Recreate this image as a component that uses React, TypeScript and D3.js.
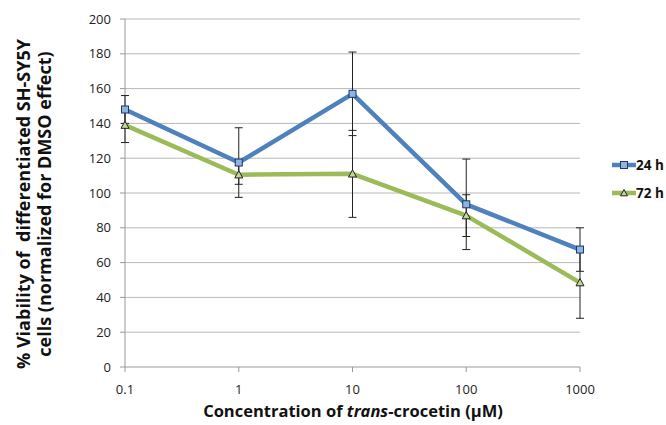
import React from "react";
import * as d3 from "d3";

const concentrations = [0.1, 1, 10, 100, 1000];
const series24 = [148, 117.5, 157, 93.5, 67.5];
const err24 = [8, 20, 24, 26, 12.5];
const series72 = [139, 110.5, 111, 87, 48.5];
const err72 = [10, 5.5, 25, 12, 20.5];
const yTicks = [0, 20, 40, 60, 80, 100, 120, 140, 160, 180, 200];
const xTicks = [0.1, 1, 10, 100, 1000];
const seriesNames = ["24 h", "72 h"];

const W = 666;
const H = 425;

export default function App() {
  const x = d3.scaleLog().domain([0.1, 1000]).range([125, 580]);
  const y = d3.scaleLinear().domain([0, 200]).range([367, 19]);
  const font = "'Open Sans', 'Liberation Sans', sans-serif";

  const line = d3
    .line<[number, number]>()
    .x((d) => x(d[0]))
    .y((d) => y(d[1]));

  const d24 = concentrations.map((c, i) => [c, series24[i]] as [number, number]);
  const d72 = concentrations.map((c, i) => [c, series72[i]] as [number, number]);

  const blue = "#4f81bd";
  const green = "#9bbb59";

  const errorBars = (vals: number[], errs: number[], key: string) =>
    concentrations.map((c, i) => {
      const cx = x(c);
      const t = y(vals[i] + errs[i]);
      const b = y(vals[i] - errs[i]);
      return (
        <g key={key + i} stroke="#222" strokeWidth={1}>
          <line x1={cx} x2={cx} y1={t} y2={b} />
          <line x1={cx - 4} x2={cx + 4} y1={t} y2={t} />
          <line x1={cx - 4} x2={cx + 4} y1={b} y2={b} />
        </g>
      );
    });

  const tri = (cx: number, cy: number, s: number) =>
    `M${cx},${cy - s} L${cx + s},${cy + s * 0.8} L${cx - s},${cy + s * 0.8} Z`;

  return (
    <svg width={W} height={H} style={{ position: "absolute", left: 0, top: 0, background: "#fff" }}>
      <rect width={W} height={H} fill="#fff" />
      {yTicks.map((t) =>
        t === 0 ? null : (
          <line key={"g" + t} x1={125} x2={580} y1={y(t)} y2={y(t)} stroke="#b8b8b8" strokeWidth={1} />
        )
      )}
      <line x1={125} x2={125} y1={y(200)} y2={y(0)} stroke="#999" strokeWidth={1} />
      <line x1={125} x2={580} y1={y(0)} y2={y(0)} stroke="#999" strokeWidth={1} />
      {yTicks.map((t) => (
        <g key={"yt" + t}>
          <line x1={120} x2={125} y1={y(t)} y2={y(t)} stroke="#999" />
          <text x={111} y={y(t)} dy="0.35em" textAnchor="end" fontFamily={font} fontSize={13} fill="#222">
            {t}
          </text>
        </g>
      ))}
      {xTicks.map((t) => (
        <g key={"xt" + t}>
          <line x1={x(t)} x2={x(t)} y1={y(0)} y2={y(0) + 5} stroke="#999" />
          <text x={x(t)} y={389.5} dy="0.35em" textAnchor="middle" fontFamily={font} fontSize={13} fill="#222">
            {t}
          </text>
        </g>
      ))}
      {errorBars(series24, err24, "e24")}
      {errorBars(series72, err72, "e72")}
      <path d={line(d72) || ""} fill="none" stroke={green} strokeWidth={4.5} strokeLinejoin="round" />
      <path d={line(d24) || ""} fill="none" stroke={blue} strokeWidth={4.5} strokeLinejoin="round" />
      {d72.map((d, i) => (
        <path key={"m72" + i} d={tri(x(d[0]), y(d[1]), 4)} fill="#c3d69b" stroke="#222" strokeWidth={1} />
      ))}
      {d24.map((d, i) => (
        <rect
          key={"m24" + i}
          x={x(d[0]) - 3.5}
          y={y(d[1]) - 3.5}
          width={7}
          height={7}
          fill="#8db4e2"
          stroke="#1f3864"
          strokeWidth={1}
        />
      ))}
      <g>
        <line x1={612} x2={636} y1={165} y2={165} stroke={blue} strokeWidth={4.5} />
        <rect x={620.5} y={161.5} width={7} height={7} fill="#8db4e2" stroke="#1f3864" />
        <text x={636} y={165} dy="0.35em" fontFamily={font} fontWeight="bold" fontSize={13.5} fill="#111">
          {seriesNames[0]}
        </text>
        <line x1={612} x2={636} y1={193} y2={193} stroke={green} strokeWidth={4.5} />
        <path d={tri(624, 193, 3.5)} fill="#c3d69b" stroke="#222" />
        <text x={636} y={193} dy="0.35em" fontFamily={font} fontWeight="bold" fontSize={13.5} fill="#111">
          {seriesNames[1]}
        </text>
      </g>
      <text x={353} y={417} textAnchor="middle" fontFamily={font} fontWeight="bold" fontSize={16.5} fill="#111">
        Concentration of <tspan fontStyle="italic">trans</tspan>-crocetin (µM)
      </text>
      <g transform="translate(0,204) rotate(-90)">
        <text x={0} y={30} textAnchor="middle" fontFamily={font} fontWeight="bold" fontSize={18} fill="#111" style={{ whiteSpace: "pre" }}>
          {"% Viability of  differentiated SH-SY5Y"}
        </text>
        <text x={0} y={51} textAnchor="middle" fontFamily={font} fontWeight="bold" fontSize={18} fill="#111">
          cells (normalized for DMSO effect)
        </text>
      </g>
    </svg>
  );
}
